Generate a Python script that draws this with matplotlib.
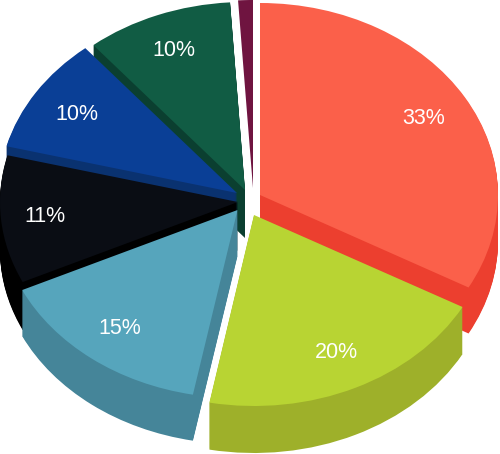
import numpy as np
import matplotlib
matplotlib.use("Agg")
import matplotlib.pyplot as plt
from matplotlib.patches import Wedge
from matplotlib.transforms import Affine2D

# Slice values, clockwise from 12 o'clock
values = [33, 20, 15, 11, 10, 10, 1]
labels = ["33%", "20%", "15%", "11%", "10%", "10%", ""]
top_colors = ["#fb604a", "#b8d433", "#56a5bc", "#0a0d14", "#0a3f96", "#115c44", "#6f1440"]
side_colors = ["#ec3f2f", "#9eb02a", "#458599", "#000000", "#0a3270", "#0b3f30", "#6f1440"]

# Layout in pixels: wedge tips after the explode, side height, label spots
tips = [(260, 195), (254, 215), (237.5, 210), (238, 202), (237, 193), (245, 190), (253, 188)]
depths = [46, 47, 46, 48, 46, 48, 0]
label_pos = [(424, 118), (336, 352), (120, 329), (45, 217), (77, 115), (174, 50), (0, 0)]
draw_order = [6, 5, 4, 3, 0, 2, 1]

rx = 238
ry = [192, 191, 188, 188, 188, 188, 188]

plt.rcParams["font.family"] = ["Liberation Sans", "DejaVu Sans"]

fig = plt.figure(figsize=(5, 4.54), dpi=100)
ax = fig.add_axes([0, 0, 1, 1])
ax.set_xlim(0, 500)
ax.set_ylim(454, 0)
ax.axis("off")

# Angles in degrees, going clockwise from the top
ends = 90 - np.cumsum(values) / np.sum(values) * 360
starts = np.concatenate(([90], ends[:-1]))


def add_wedge(i, dy, color, z):
    # unit wedge squashed into an ellipse; y flip because the axis is inverted
    tr = Affine2D().scale(rx, -ry[i]).translate(tips[i][0], tips[i][1] + dy) + ax.transData
    ax.add_patch(Wedge((0, 0), 1, ends[i], starts[i], facecolor=color, edgecolor="none",
                       transform=tr, zorder=z))


for n, i in enumerate(draw_order):
    # stack copies downward for the side, then put the top face over it
    for dy in range(depths[i], 0, -1):
        add_wedge(i, dy, side_colors[i], n + 1)
    add_wedge(i, 0, top_colors[i], n + 1)

for lab, (x, y) in zip(labels, label_pos):
    if lab:
        ax.text(x, y, lab, color="white", fontsize=15.5, ha="center", va="center", zorder=20)

fig.savefig("out.png", dpi=100)
